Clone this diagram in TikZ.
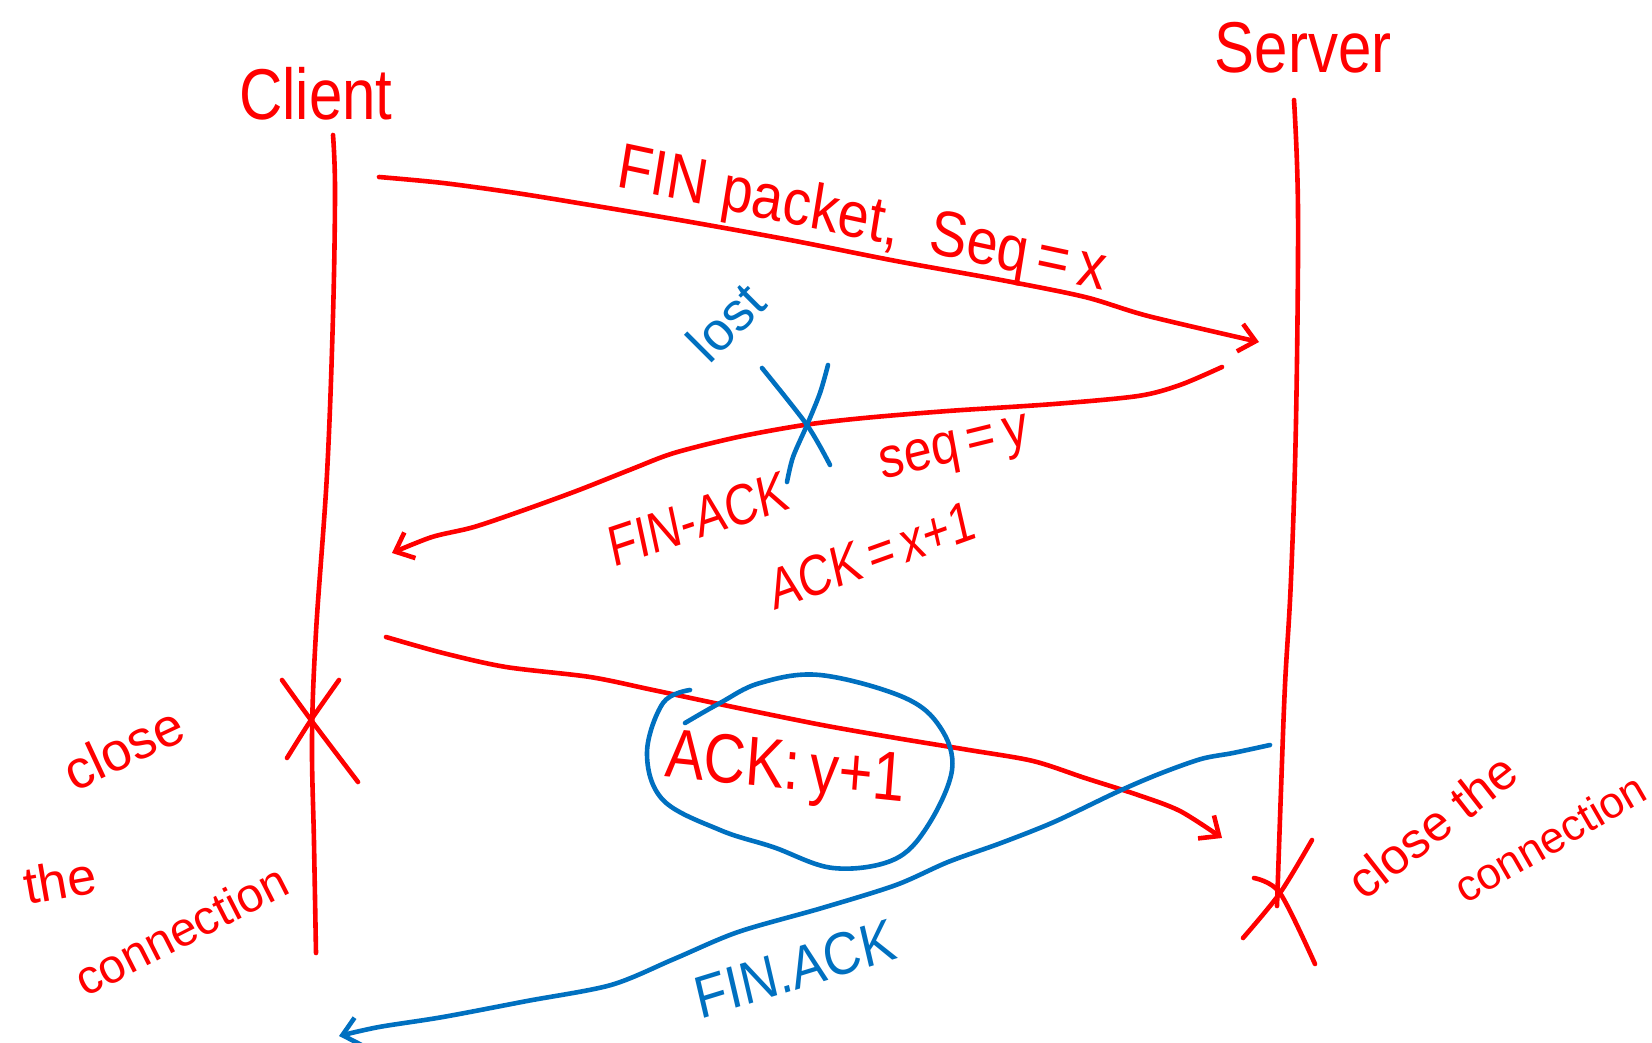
\documentclass[tikz,border=0pt]{standalone}
\usepackage{fontspec}
\setmainfont{Liberation Sans}
\usetikzlibrary{arrows.meta}
\definecolor{pen}{RGB}{255,0,0}
\definecolor{bpen}{RGB}{0,112,192}
\begin{document}
\begin{tikzpicture}[x=1pt,y=-1pt,
  rl/.style={draw=pen, line width=4.6pt, line cap=round, line join=round},
  bl/.style={draw=bpen, line width=4.6pt, line cap=round, line join=round},
  tipend/.style={-{Straight Barb[length=16pt,width=28pt]}},
  lbl/.style={text=pen, inner sep=0pt},
  blbl/.style={text=bpen, inner sep=0pt},
  fs/.style={font=\fontsize{#1}{#1}\selectfont}]
\useasboundingbox (0,0) rectangle (1652,1043);
\fill[white] (0,0) rectangle (1652,1043);

% titles
\node[lbl, fs=60, yscale=1.2] (client) at (316,94) {Client};
\node[lbl, fs=60, yscale=1.2] (server) at (1303,48) {Server};

% life lines
\coordinate (ctop) at (333,135);
\coordinate (cbot) at (316,953);
\coordinate (stop) at (1294,100);
\coordinate (sbot) at (1277,906);
\draw[rl] plot[smooth, tension=0.6] coordinates {(ctop) (335,190) (333,316) (327,474) (316,632) (312,738) (314,843) (cbot)};
\draw[rl] plot[smooth, tension=0.6] coordinates {(stop) (1298,211) (1296,421) (1291,579) (1285,685) (1281,790) (sbot)};

% client X
\coordinate (cx) at (311,720);
\draw[rl] plot[smooth] coordinates {(282,680) (cx) (358,782)};
\draw[rl] plot[smooth] coordinates {(339,680) (cx) (287,758)};
% server X
\coordinate (sx) at (1280,893);
\draw[rl] plot[smooth] coordinates {(1312,840) (sx) (1243,938)};
\draw[rl] plot[smooth] coordinates {(1254,878) (sx) (1315,964)};

% arrow 1: FIN
\coordinate (a1s) at (379,177);
\coordinate (a1e) at (1259,342);
\draw[rl, tipend] plot[smooth, tension=0.5] coordinates {(a1s) (443,183) (516,193) (590,205) (685,221) (790,240) (896,261) (1001,280) (1085,297) (1148,316) (a1e)};
\node[lbl, fs=56, yscale=1.15, rotate=-10.5] (fin1) at (862,222) {FIN packet,\ \ Seq\,=\,x};

% arrow 2: FIN-ACK (lost)
\coordinate (a2s) at (1222,367);
\coordinate (a2e) at (392,553);
\draw[rl, tipend] plot[smooth, tension=0.5] coordinates {(a2s) (1180,385) (1138,396) (1054,404) (948,411) (864,418) (804,425) (738,437) (674,453) (632,469) (579,490) (527,509) (474,527) (432,537) (a2e)};
\node[lbl, fs=46, yscale=1.25, rotate=15] (finack) at (698,519) {FIN-ACK};
\node[lbl, fs=46, yscale=1.25, rotate=16] (ackx) at (872,555) {ACK\,=\,x+1};
\node[lbl, fs=50, yscale=1.15, rotate=12] (seqy) at (955,452) {seq\,=\,y};

% lost X
\coordinate (lx) at (807,425);
\draw[bl] plot[smooth] coordinates {(762,368) (lx) (830,465)};
\draw[bl] plot[smooth] coordinates {(828,365) (820,393) (lx) (793,457) (787,482)};
\node[blbl, fs=54, rotate=45] (lost) at (726,322) {lost};

% arrow 3: ACK
\coordinate (a3s) at (386,637);
\coordinate (a3e) at (1222,838);
\draw[rl, tipend] plot[smooth, tension=0.5] coordinates {(a3s) (443,653) (506,667) (590,677) (653,690) (738,708) (822,725) (896,738) (969,750) (1033,761) (1085,778) (1138,795) (1180,811) (a3e)};

% circle around ACK
\draw[bl] plot[smooth, tension=0.6] coordinates {(685,723) (720,703) (760,683) (820,675) (903,697) (940,727) (952,770) (927,827) (893,860) (833,868) (773,847) (720,830) (663,800) (647,753) (663,703) (690,690)};
\node[lbl, fs=58, yscale=1.2, rotate=-5] (acky) at (785,772) {ACK:\,y+1};

% arrow 4: FIN.ACK (blue)
\coordinate (a4s) at (1270,745);
\coordinate (a4e) at (339,1036);
\draw[bl, tipend] plot[smooth, tension=0.5] coordinates {(a4s) (1233,753) (1201,759) (1159,774) (1117,792) (1054,822) (1001,843) (948,862) (896,885) (822,908) (738,932) (674,959) (611,985) (527,1001) (443,1017) (379,1027) (a4e)};
\node[blbl, fs=52, yscale=1.15, rotate=15] (finackb) at (795,969) {FIN.ACK};

% side notes
\node[lbl, fs=54, rotate=25] (closel) at (123,748) {close};
\node[lbl, fs=52, rotate=10] (thel) at (60,880) {the};
\node[lbl, fs=48, rotate=27] (connl) at (181,930) {connection};
\node[lbl, fs=50, rotate=38] (closer) at (1432,826) {close the};
\node[lbl, fs=44, rotate=30] (connr) at (1550,838) {connection};
\end{tikzpicture}
\end{document}
